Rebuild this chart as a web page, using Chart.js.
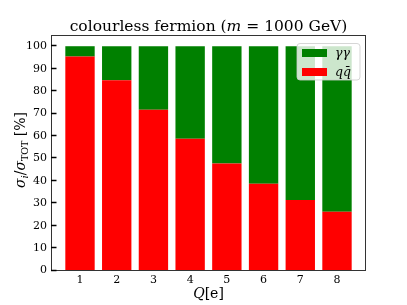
<!DOCTYPE html>
<html><head><meta charset="utf-8">
<script src="https://cdn.jsdelivr.net/npm/chart.js@4"></script>
<style>html,body{margin:0;padding:0;background:#fff}#wrap{width:407px;height:305px}</style>
</head><body><div id="wrap"><canvas id="c" width="407" height="305"></canvas></div>
<script>
const categories = [1, 2, 3, 4, 5, 6, 7, 8];
const qqbar = [95.4, 84.8, 71.7, 58.7, 47.7, 38.7, 31.5, 26.2];
const gammagamma = [4.6, 15.2, 28.3, 41.3, 52.3, 61.3, 68.5, 73.8];
const yTicks = [0, 10, 20, 30, 40, 50, 60, 70, 80, 90, 100];
const titleParts = [["colourless fermion (", ""], ["m", "italic "], [" = 1000 GeV)", ""]];

const SERIF = '"DejaVu Serif", "Liberation Serif", serif';

function drawParts(ctx, parts, x, y, align) {
  let total = 0;
  parts.forEach(p => { ctx.font = p[1] + p[2] + 'px ' + SERIF; total += ctx.measureText(p[0]).width; });
  let cx = align === 'center' ? x - total / 2 : x;
  parts.forEach(p => {
    ctx.font = p[1] + p[2] + 'px ' + SERIF;
    ctx.fillText(p[0], cx, y + (p[3] || 0));
    cx += ctx.measureText(p[0]).width;
  });
}

const deco = {
  id: 'deco',
  afterDraw(chart) {
    const ctx = chart.ctx, a = chart.chartArea, ys = chart.scales.y;
    ctx.save();
    ctx.strokeStyle = '#333'; ctx.lineWidth = 1;
    ctx.strokeRect(Math.round(a.left) + 0.5, Math.round(a.top) + 0.5, Math.round(a.right - a.left) - 1, Math.round(a.bottom - a.top) - 1);
    ctx.strokeStyle = '#000'; ctx.lineWidth = 1.5;
    yTicks.forEach(v => {
      const py = Math.round(ys.getPixelForValue(v)) - 0.5;
      ctx.beginPath(); ctx.moveTo(a.left, py); ctx.lineTo(a.left + 5.5, py); ctx.stroke();
    });
    ctx.fillStyle = '#000'; ctx.textBaseline = 'alphabetic';
    drawParts(ctx, titleParts.map(t => [t[0], t[1], 15.5, 0]), (a.left + a.right) / 2, 31, 'center');
    drawParts(ctx, [["Q", "italic ", 14, 0], ["[e]", "", 14, 0]], (a.left + a.right) / 2, 298, 'center');
    ctx.save();
    ctx.translate(25, (a.top + a.bottom) / 2 - 3);
    ctx.rotate(-Math.PI / 2);
    drawParts(ctx, [["σ", "italic ", 14, 0], ["i", "italic ", 10, 3], ["/", "", 14, 0], ["σ", "italic ", 14, 0], ["TOT", "", 9.5, 3], [" [%]", "", 14, 0]], 0, 0, 'center');
    ctx.restore();
    const lx = 297, ly = 43.5, lw = 63, lh = 36.5, r = 3;
    ctx.beginPath();
    ctx.moveTo(lx + r, ly); ctx.lineTo(lx + lw - r, ly); ctx.quadraticCurveTo(lx + lw, ly, lx + lw, ly + r);
    ctx.lineTo(lx + lw, ly + lh - r); ctx.quadraticCurveTo(lx + lw, ly + lh, lx + lw - r, ly + lh);
    ctx.lineTo(lx + r, ly + lh); ctx.quadraticCurveTo(lx, ly + lh, lx, ly + lh - r);
    ctx.lineTo(lx, ly + r); ctx.quadraticCurveTo(lx, ly, lx + r, ly); ctx.closePath();
    ctx.fillStyle = 'rgba(255,255,255,0.8)'; ctx.fill();
    ctx.strokeStyle = 'rgba(204,204,204,0.8)'; ctx.lineWidth = 1; ctx.stroke();
    ctx.fillStyle = '#008000'; ctx.fillRect(302, 49, 25, 8);
    ctx.fillStyle = '#ff0000'; ctx.fillRect(302, 68, 25, 8);
    ctx.fillStyle = '#000';
    drawParts(ctx, [["γγ", "italic ", 12.5, 0]], 335, 57, 'left');
    drawParts(ctx, [["q", "italic ", 12.5, 0], ["q̄", "italic ", 12.5, 0]], 335, 76, 'left');
    ctx.restore();
  }
};

new Chart(document.getElementById('c'), {
  type: 'bar',
  data: {
    datasets: [
      { label: 'q q̄', data: categories.map((c, i) => ({ x: c, y: qqbar[i] })), backgroundColor: '#ff0000', borderWidth: 0, barPercentage: 0.8, categoryPercentage: 1.0 },
      { label: 'γγ', data: categories.map((c, i) => ({ x: c, y: gammagamma[i] })), backgroundColor: '#008000', borderWidth: 0, barPercentage: 0.8, categoryPercentage: 1.0 }
    ]
  },
  options: {
    responsive: false, animation: false, devicePixelRatio: 1,
    layout: { padding: { top: 35, right: 41, left: 0, bottom: 0 } },
    plugins: { legend: { display: false }, title: { display: false }, tooltip: { enabled: false } },
    scales: {
      x: {
        type: 'linear', stacked: true, offset: false, min: 0.21, max: 8.79,
        afterBuildTicks: s => { s.ticks = categories.map(v => ({ value: v })); },
        afterFit: s => { s.height = 34; },
        grid: { display: false, drawTicks: false }, border: { display: false },
        ticks: { color: '#000', font: { family: SERIF, size: 11 }, padding: 3, maxRotation: 0, autoSkip: false }
      },
      y: {
        stacked: true, min: -0.2, max: 105,
        afterBuildTicks: s => { s.ticks = yTicks.map(v => ({ value: v })); },
        afterFit: s => { s.width = 51; },
        grid: { display: false, drawTicks: false }, border: { display: false },
        ticks: { color: '#000', font: { family: SERIF, size: 11 }, padding: 4, autoSkip: false }
      }
    }
  },
  plugins: [deco]
});
</script></body></html>
